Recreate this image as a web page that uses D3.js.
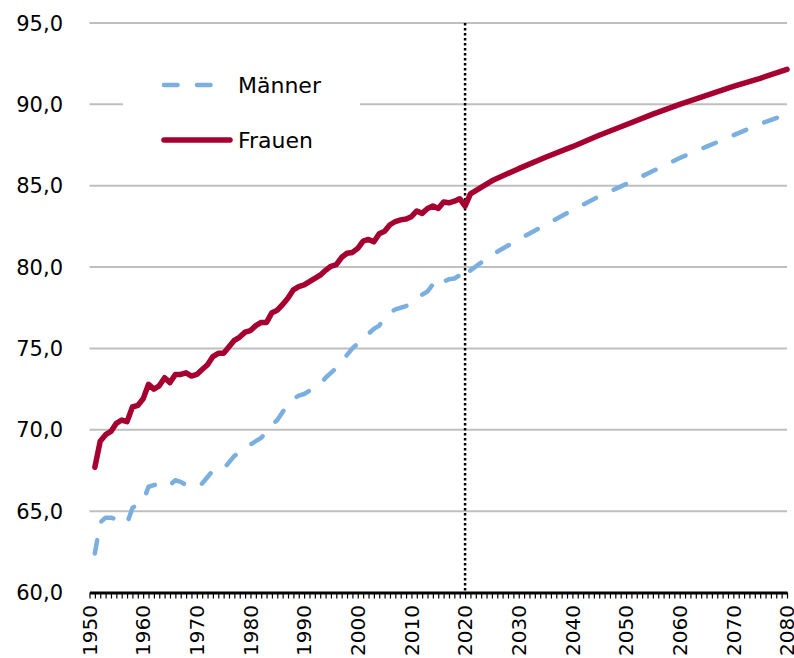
<!DOCTYPE html>
<html>
<head>
<meta charset="utf-8">
<script src="https://cdn.jsdelivr.net/npm/d3@7"></script>
<style>
  body { margin: 0; background: white; }
  svg { display: block; font-family: "DejaVu Sans", sans-serif; }
</style>
</head>
<body>
<svg id="plot"></svg>
<script>
const width = 794;
const height = 658;

// historical years 1951..2020, then projection
const histYears = d3.range(1951, 2021);
const projYears = [2021, 2025, 2030, 2035, 2040, 2045, 2050, 2055, 2060, 2065, 2070, 2075, 2080];

const frauenHist = [
  67.7, 69.3, 69.7, 69.9, 70.4, 70.6, 70.5, 71.4, 71.5, 71.9,
  72.8, 72.5, 72.7, 73.2, 72.9, 73.4, 73.4, 73.5, 73.3, 73.4,
  73.7, 74.0, 74.5, 74.7, 74.7, 75.1, 75.5, 75.7, 76.0, 76.1,
  76.4, 76.6, 76.6, 77.2, 77.35, 77.7, 78.1, 78.6, 78.8, 78.9,
  79.1, 79.3, 79.5, 79.8, 80.05, 80.15, 80.6, 80.85, 80.9, 81.15,
  81.6, 81.7, 81.55, 82.05, 82.2, 82.6, 82.8, 82.9, 82.95, 83.1,
  83.45, 83.3, 83.6, 83.75, 83.6, 84.0, 83.95, 84.05, 84.2, 83.75
];
const frauenProj = [84.5, 85.3, 86.05, 86.75, 87.4, 88.1, 88.75, 89.4, 90.0, 90.55, 91.1, 91.6, 92.15];

const maennerHist = [
  62.4, 64.3, 64.6, 64.6, 64.5, 64.3, 64.25, 65.2, 65.4, 65.6,
  66.5, 66.6, 66.7, 66.8, 66.6, 66.9, 66.8, 66.6, 66.5, 66.5,
  66.7, 67.1, 67.5, 67.5, 67.6, 68.0, 68.4, 68.6, 68.9, 69.1,
  69.3, 69.5, 69.9, 70.3, 70.6, 71.1, 71.5, 71.9, 72.1, 72.2,
  72.4, 72.65, 72.8, 73.2, 73.5, 73.8, 74.2, 74.6, 75.0, 75.3,
  75.7, 75.9, 76.2, 76.4, 76.9, 77.2, 77.4, 77.5, 77.6, 77.8,
  78.1, 78.3, 78.5, 78.95, 78.7, 79.1, 79.25, 79.3, 79.5, 79.2
];
const maennerProj = [79.8, 80.75, 81.7, 82.6, 83.5, 84.35, 85.1, 85.9, 86.7, 87.4, 88.1, 88.8, 89.4];

const yTicks = [60, 65, 70, 75, 80, 85, 90, 95];
const xLabels = d3.range(1950, 2081, 10);
const cutYear = 2020;

const red = '#a50030';
const blue = '#7aafdf';
const grid = '#bfbfbf';

function series(hist, proj){
  return histYears.map((y,i)=>[y, hist[i]])
    .concat(projYears.map((y,i)=>[y, proj[i]]));
}

let svg = d3.select('svg#plot')
  .attr('width', width)
  .attr('height', height);

let sx = d3.scaleLinear()
  .domain([1950, 2080])
  .range([89.5, 787]);

let sy = d3.scaleLinear()
  .domain([60, 95])
  .range([592.5, 23]);

// gridlines
svg.append('g')
  .selectAll('line')
  .data(yTicks.filter(d=>d>60))
  .enter()
  .append('line')
  .attr('x1', sx.range()[0])
  .attr('x2', sx.range()[1])
  .attr('y1', d=>sy(d))
  .attr('y2', d=>sy(d))
  .attr('stroke', grid)
  .attr('stroke-width', 2);

// y labels
svg.append('g')
  .selectAll('text')
  .data(yTicks)
  .enter()
  .append('text')
  .attr('x', 63)
  .attr('y', d=>sy(d))
  .attr('dy', '0.36em')
  .attr('text-anchor', 'end')
  .attr('font-size', 21)
  .attr('fill', '#000')
  .text(d=>d.toFixed(1).replace('.', ','));

// x axis: one tick every year
let ax = d3.axisBottom(sx)
  .tickValues(d3.range(1950, 2081))
  .tickSizeInner(6)
  .tickSizeOuter(0)
  .tickFormat('');
let gx = svg.append('g')
  .attr('transform', `translate(0,${sy(60)})`)
  .call(ax);
gx.select('.domain')
  .attr('stroke', '#000')
  .attr('stroke-width', 3);
gx.selectAll('.tick line')
  .attr('stroke', '#000')
  .attr('stroke-width', 1.2);

svg.append('g')
  .selectAll('text')
  .data(xLabels)
  .enter()
  .append('text')
  .attr('transform', d=>`translate(${sx(d)},605) rotate(-90)`)
  .attr('dy', '0.36em')
  .attr('text-anchor', 'end')
  .attr('font-size', 20)
  .text(d=>d);

// dotted marker at 2020
svg.append('line')
  .attr('x1', sx(cutYear))
  .attr('x2', sx(cutYear))
  .attr('y1', sy(95))
  .attr('y2', sy(60))
  .attr('stroke', '#000')
  .attr('stroke-width', 2.5)
  .attr('stroke-dasharray', '2.5 2.5');

let line = d3.line()
  .x(d=>sx(d[0]))
  .y(d=>sy(d[1]));

svg.append('path')
  .datum(series(maennerHist, maennerProj))
  .attr('d', line)
  .attr('fill', 'none')
  .attr('stroke', blue)
  .attr('stroke-width', 4.5)
  .attr('stroke-linecap', 'round')
  .attr('stroke-linejoin', 'round')
  .attr('stroke-dasharray', '13.5 19.5');

svg.append('path')
  .datum(series(frauenHist, frauenProj))
  .attr('d', line)
  .attr('fill', 'none')
  .attr('stroke', red)
  .attr('stroke-width', 5.5)
  .attr('stroke-linecap', 'round')
  .attr('stroke-linejoin', 'round');

// legend
let legend = svg.append('g');
legend.append('rect')
  .attr('x', 123)
  .attr('y', 55)
  .attr('width', 237)
  .attr('height', 110)
  .attr('fill', 'white');

let items = [
  {name: 'Männer', color: blue, w: 4.5, dash: '13.5 19.5', y: 85},
  {name: 'Frauen', color: red, w: 5.5, dash: null, y: 140}
];
items.forEach(it=>{
  legend.append('line')
    .attr('x1', 164)
    .attr('x2', 230)
    .attr('y1', it.y)
    .attr('y2', it.y)
    .attr('stroke', it.color)
    .attr('stroke-width', it.w)
    .attr('stroke-linecap', 'round')
    .attr('stroke-dasharray', it.dash);
  legend.append('text')
    .attr('x', 238)
    .attr('y', it.y)
    .attr('dy', '0.36em')
    .attr('font-size', 22)
    .text(it.name);
});
</script>
</body>
</html>
